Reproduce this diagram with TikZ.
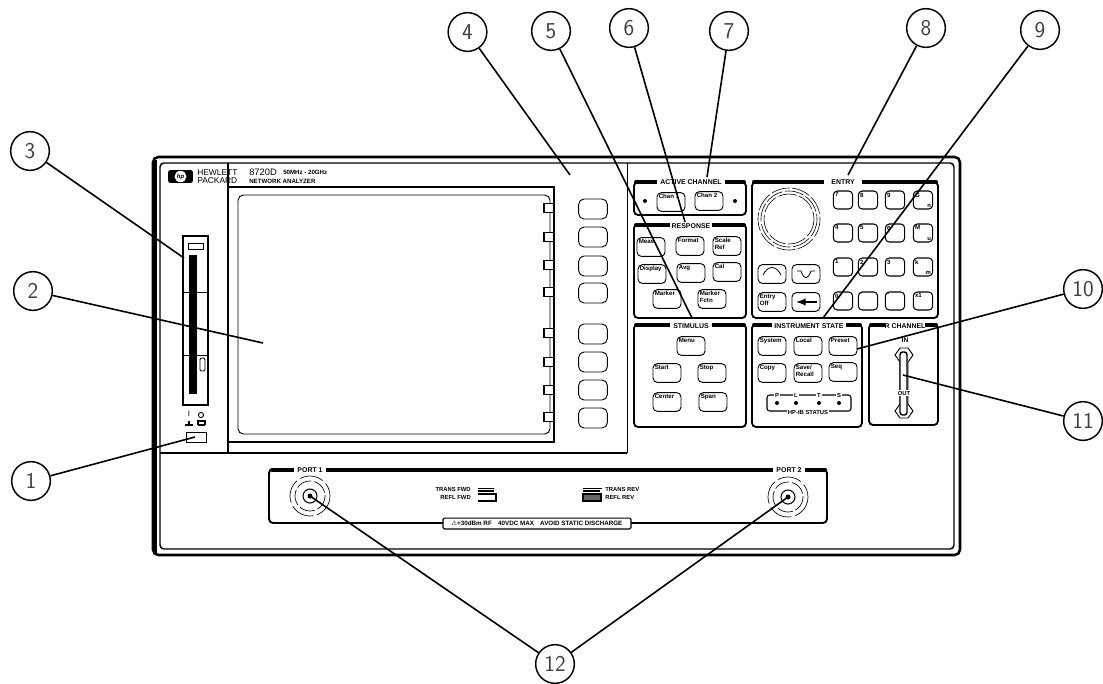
\documentclass[tikz,border=0pt]{standalone}
\usepackage{fontspec}
\usetikzlibrary{shapes.geometric}
\setmainfont{Liberation Sans}
\newfontfamily\symfont{DejaVu Sans}
\tikzset{
  x=0.75pt,y=-0.75pt,
  frameline/.style={line width=1.9pt,rounded corners=4pt},
  panel/.style={line width=1.4pt,rounded corners=3pt},
  headbar/.style={line width=3pt,line cap=round},
  headtext/.style={fill=white,inner sep=0pt,minimum height=7.5pt,font=\fontsize{5.2}{6}\selectfont\bfseries},
  btn/.style={draw,line width=0.7pt,rounded corners=3.2pt,minimum width=21pt,minimum height=14pt,inner sep=0pt,fill=white},
  key/.style={draw,line width=0.8pt,rounded corners=3pt,minimum width=14.5pt,minimum height=13.5pt,inner sep=0pt,fill=white},
  soft/.style={draw,line width=0.7pt,rounded corners=4pt,minimum width=21.5pt,minimum height=15pt,inner sep=0pt},
  tab/.style={draw,line width=0.8pt,fill=white,minimum width=7.5pt,minimum height=6.8pt,inner sep=0pt},
  btxt/.style={inner sep=1.5pt,align=left,anchor=north west,font=\fontsize{4.6}{5}\selectfont\bfseries},
  small/.style={inner sep=0pt,font=\fontsize{4.4}{5}\selectfont\bfseries},
  callout/.style={draw,circle,line width=1.1pt,minimum size=29pt,inner sep=0pt,text=black!75,font=\fontsize{17}{17}\selectfont\sffamily},
  lead/.style={line width=1.2pt},
  led/.style={circle,fill=black,minimum size=3pt,inner sep=0pt},
  ring/.style={line width=0.45pt,dash pattern=on 14pt off 2pt},
}
\newcommand{\btnk}[4]{\node[btn] (#1) at (#2,#3) {};\node[btxt] (#1t) at (#1.north west) {#4};}
\begin{document}
\begin{tikzpicture}
\useasboundingbox (0,0) rectangle (1103,683);
% cabinet
\draw[frameline] (153,157) rectangle (960,555);
\draw[line width=1.1pt,rounded corners=3pt] (160,163) rectangle (954,549);
\draw[line width=3pt] (154.5,160) -- (154.5,553);
\draw[line width=2pt] (228,163) -- (228,453);
\draw[line width=1.5pt] (160,453) -- (627,453);
\draw[line width=0.6pt] (627,163) -- (627,453);
% brand
\node[fill=black,rounded corners=1.5pt,minimum width=18.5pt,minimum height=9.5pt,inner sep=0pt] (logo) at (180.5,176.5) {};
\node[fill=white,ellipse,draw=none,minimum width=9pt,minimum height=8.5pt,inner sep=0pt,text=black,font=\fontsize{4.5}{5}\selectfont\bfseries\itshape] (hp) at (logo) {hp};
\node[anchor=west,inner sep=0pt,font=\fontsize{6.3}{7}\selectfont] (hew) at (197,172.5) {HEWLETT};
\node[anchor=west,inner sep=0pt,font=\fontsize{6.3}{7}\selectfont] (pac) at (197,181) {PACKARD};
\node[anchor=west,inner sep=0pt,font=\fontsize{7}{7}\selectfont] (mod) at (249,172.5) {8720D};
\node[anchor=west,inner sep=0pt,font=\fontsize{4.6}{5}\selectfont\bfseries] (rng) at (283,172.5) {50MHz - 20GHz};
\node[anchor=west,inner sep=0pt,font=\fontsize{4.6}{5}\selectfont\bfseries] (net) at (249,181) {NETWORK ANALYZER};
% display
\draw[line width=1.6pt] (228,187) -- (554,187) -- (554,442) -- (228,442);
\draw[line width=0.7pt,rounded corners=4pt] (238,195) rectangle (550,434);
\foreach \n/\y in {a/208,b/237,c/265,d/292,e/333,f/362,g/390,h/417}{\node[tab] (tab\n) at (549,\y) {};}
\foreach \n/\y in {a/209,b/237,c/266,d/293,e/334,f/362,g/390,h/418}{\node[soft] (soft\n) at (593,\y) {};}
% disk drive
\draw[line width=0.9pt] (183,405) -- (183,236) -- (208,236) -- (208,405) -- cycle;
\draw[line width=0.7pt] (188,243) rectangle (203,249);
\fill (189,255) rectangle (197,394);
\draw[line width=0.6pt] (183,292) -- (208,292) (183,355) -- (208,355);
\draw[line width=0.7pt,rounded corners=1pt] (200,358) rectangle (205,371);
% power
\node[small,font=\fontsize{6}{6}\selectfont] (pI) at (189,414) {I};
\draw[line width=0.7pt] (201,415) circle (2.6);
\draw[line width=0.8pt] (185,425) -- (193,425) (189,421) -- (189,425);
\draw[line width=0.8pt] (198,425) -- (205,425) (198,425) -- (198,421) -- (205,421) -- (205,425);
\draw[line width=0.7pt] (186,432) rectangle (206,442);
% active channel
\draw[panel] (634,215) -- (634,182) -- (746,182) -- (746,215) -- cycle;
\draw[headbar] (636,182) -- (744,182);
\node[headtext,minimum width=51pt] (hActive) at (691,182) {ACTIVE CHANNEL};
\node[led] (ledA) at (645,201) {};
\node[led] (ledB) at (735,201) {};
\btnk{chA}{671}{202}{Chan 1}
\btnk{chB}{709}{201}{Chan 2}
% response
\draw[panel] (634,318) -- (634,224) -- (746,224) -- (746,318) -- cycle;
\draw[headbar] (636,225) -- (744,225);
\node[headtext,minimum width=32pt] (hResp) at (691,226) {RESPONSE};
\btnk{meas}{651}{247}{Meas}
\btnk{fmt}{690}{246}{Format}
\btnk{scl}{727}{246}{Scale\\Ref}
\btnk{dsp}{652}{274}{Display}
\btnk{avg}{691}{273}{Avg}
\btnk{cal}{727}{272}{Cal}
\btnk{mrk}{667}{299}{Marker}
\btnk{mkf}{712}{299}{Marker\\Fctn}
% stimulus
\draw[panel] (634,427) -- (634,324) -- (746,324) -- (746,427) -- cycle;
\draw[headbar] (636,325) -- (744,325);
\node[headtext,minimum width=32pt] (hStim) at (691,326) {STIMULUS};
\btnk{menu}{691}{346}{Menu}
\btnk{start}{667}{373}{Start}
\btnk{stp}{712}{373}{Stop}
\btnk{cen}{667}{402}{Center}
\btnk{spn}{713}{402}{Span}
% entry
\draw[panel] (752,318) -- (752,182) -- (938,182) -- (938,318) -- cycle;
\draw[headbar] (754,182) -- (936,182);
\node[headtext,minimum width=28pt] (hEntry) at (843,182) {ENTRY};
\draw[ring] (789,219) circle (31);
\draw[ring] (789,219) circle (28);
\draw[ring] (789,219) circle (25);
\btnk{up}{772}{274}{}
\btnk{dn}{806}{274}{}
\btnk{ent}{772}{302}{Entry\\Off}
\btnk{bsp}{806}{302}{}
\draw[line width=0.6pt] (763,275) .. controls (768,265) and (776,265) .. (781,275);
\draw[line width=0.6pt] (797,271) -- (801,271) .. controls (804,280) and (808,280) .. (811,271) -- (815,271);
\draw[-latex,line width=1.5pt] (817,302) -- (796,302);
\foreach \n/\x in {a/843,b/868,c/895,d/923}{
  \foreach \m/\y in {a/200,b/233,c/267,d/301}{\node[key] (k\n\m) at (\x,\y) {};}}
\foreach \n/\t in {aa/7,ba/8,ca/9,ab/4,bb/5,cb/6,ac/1,bc/2,cc/3,ad/0,bd/.,cd/-,dd/x1}{\node[btxt] (t\n) at (k\n.north west) {\t};}
\node[btxt] (tda) at (kda.north west) {G};
\node[small,anchor=south east,inner sep=1.5pt] (tda2) at (kda.south east) {n};
\node[btxt] (tdb) at (kdb.north west) {M};
\node[small,anchor=south east,inner sep=1.5pt] (tdb2) at (kdb.south east) {u};
\node[btxt] (tdc) at (kdc.north west) {k};
\node[small,anchor=south east,inner sep=1.5pt] (tdc2) at (kdc.south east) {m};
% instrument state
\draw[panel] (752,427) -- (752,324) -- (862,324) -- (862,427) -- cycle;
\draw[headbar] (754,325) -- (860,325);
\node[headtext,minimum width=56pt] (hInst) at (809,326) {INSTRUMENT STATE};
\btnk{sys}{772}{346}{System}
\btnk{loc}{808}{346}{Local}
\btnk{pre}{843}{346}{Preset}
\btnk{cpy}{772}{373}{Copy}
\btnk{sav}{808}{373}{Save/\\Recall}
\btnk{seq}{843}{372}{Seq}
\draw[line width=0.8pt,rounded corners=2pt] (767,395) rectangle (851,411);
\foreach \n/\t/\x in {P/P/777,L/L/796,T/T/819,S/S/839}{
  \node[small,fill=white,inner xsep=1pt] (hp\n) at (\x,395.5) {\t};
  \node[led] (led\n) at (\x,403) {};}
\node[small,fill=white,inner xsep=1pt] (hpib) at (808,412) {HP-IB STATUS};
% R channel
\draw[panel] (869,425) -- (869,324) -- (938,324) -- (938,425) -- cycle;
\draw[headbar] (871,325) -- (936,325);
\node[headtext,minimum width=30pt] (hR) at (905,326) {R CHANNEL};
\node[small,font=\fontsize{5}{5}\selectfont\bfseries] (rin) at (905,340) {IN};
\draw[line width=0.7pt] (900,348) -- (908,348) -- (913,355) -- (908,362) -- (908,404) -- (913,411) -- (908,418) -- (900,418) -- (895,411) -- (900,404) -- (900,362) -- (895,355) -- cycle;
\draw[line width=1.1pt,rounded corners=2pt,fill=white] (900,352) rectangle (907,415);
\node[small,fill=white,inner sep=0.5pt] (rout) at (904,393) {OUT};
% port panel
\draw[panel] (827,469) -- (269,469) -- (269,523) -- (827,523) -- cycle;
\draw[headbar] (272,469.5) -- (825,469.5);
\node[headtext,minimum width=24pt] (p1) at (310,470) {PORT 1};
\node[headtext,minimum width=24pt] (p2) at (789,470) {PORT 2};
\foreach \c/\x/\y in {a/310/496,b/788/497}{
  \draw[line width=0.5pt,dash pattern=on 18pt off 3pt] (\x,\y) circle (20);
  \draw[line width=0.5pt,dash pattern=on 12pt off 2pt] (\x,\y) circle (15);
  \draw[line width=0.8pt] (\x,\y) circle (7);
  \fill (\x,\y) circle (2.5);
}
\node[small,anchor=east] (tf) at (471,489) {TRANS FWD};
\node[small,anchor=east] (rf) at (471,497) {REFL FWD};
\node[small,anchor=west] (tr) at (605,489) {TRANS REV};
\node[small,anchor=west] (rr) at (605,497) {REFL REV};
\draw[line width=0.8pt] (478,488.5) -- (494,488.5) (478,491) -- (494,491);
\draw[line width=0.9pt] (478,494) -- (496,494) -- (496,501) -- (478,501);
\draw[line width=0.8pt] (583,488.5) -- (602,488.5) (583,491) -- (600,491);
\draw[line width=0.9pt,fill=black!60] (583,494) rectangle (601,501);
\node[draw,fill=white,rounded corners=1pt,line width=0.8pt,minimum width=141pt,minimum height=8.2pt,inner sep=0pt,font=\fontsize{4.7}{5}\selectfont\bfseries] (warn) at (537,523.5) {{\symfont ⚠}+30dBm RF\quad 40VDC MAX\quad AVOID STATIC DISCHARGE};
% callouts
\node[callout] (c1) at (31,481) {1};
\node[callout] (c2) at (33,291) {2};
\node[callout] (c3) at (30,151) {3};
\node[callout] (c4) at (467.5,32) {4};
\node[callout] (c5) at (551,31) {5};
\node[callout] (c6) at (629,28) {6};
\node[callout] (c7) at (729,31) {7};
\node[callout] (c8) at (926,28) {8};
\node[callout] (c9) at (1040,30) {9};
\node[callout] (c10) at (1083,289) {10};
\node[callout] (c11) at (1083,421) {11};
\node[callout] (c12) at (555,664) {12};
\coordinate (e1) at (195,437);
\coordinate (e2) at (263,343);
\coordinate (e3) at (184,258);
\coordinate (e4) at (570,175);
\coordinate (e5) at (692,318);
\coordinate (e6) at (685,222);
\coordinate (e7) at (707,177);
\coordinate (e8) at (848,175);
\coordinate (e9) at (823,318);
\coordinate (e10) at (857,349);
\coordinate (e11) at (903,375);
\coordinate (e12a) at (310,496);
\coordinate (e12b) at (788,497);
\foreach \i in {1,...,11}{\draw[lead] (c\i) -- (e\i);}
\draw[lead] (c12) -- (e12a);
\draw[lead] (c12) -- (e12b);
\end{tikzpicture}
\end{document}
